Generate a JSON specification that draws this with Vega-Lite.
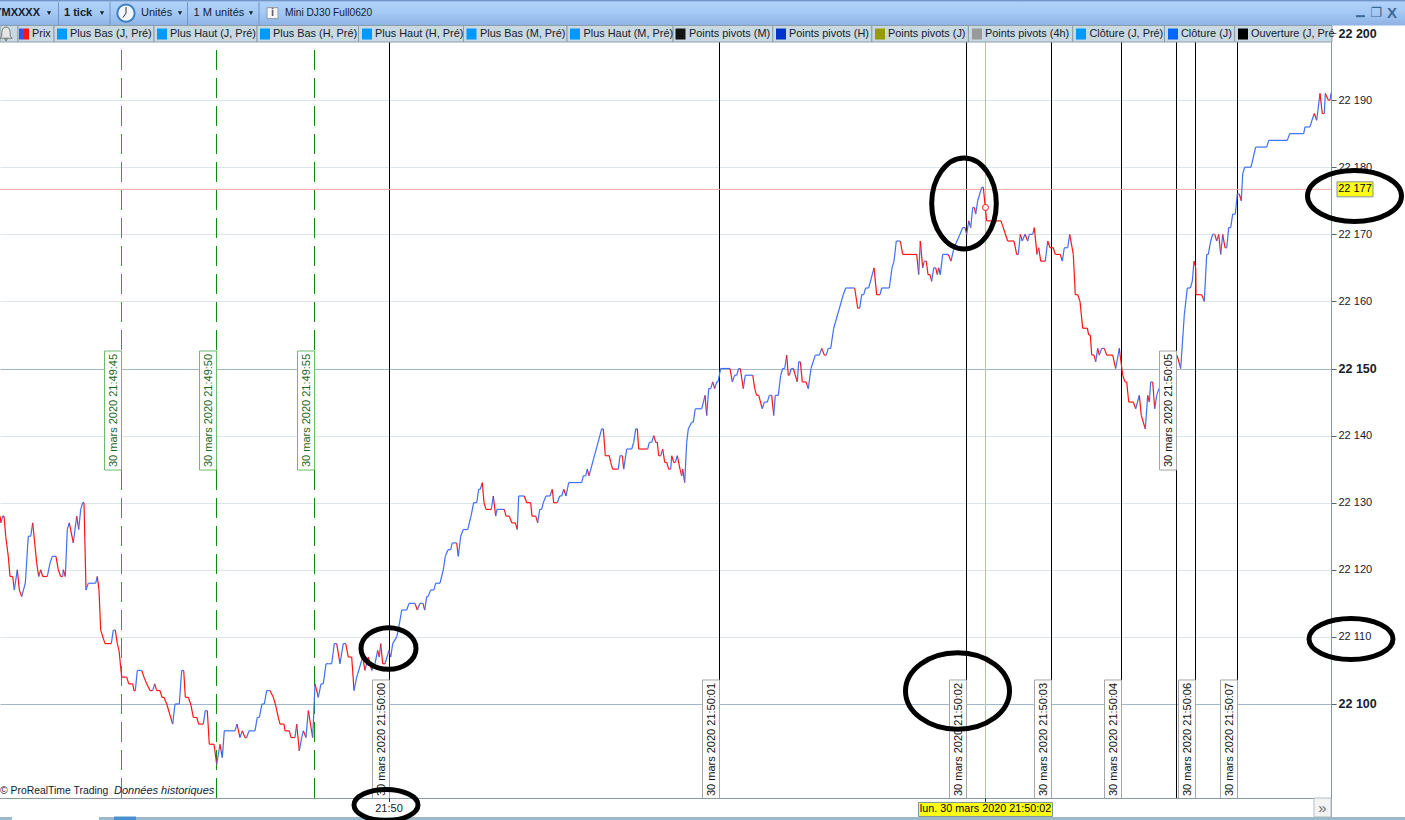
{"$schema":"https://vega.github.io/schema/vega-lite/v6.json","width":1331,"height":820,"autosize":{"type":"none"},"padding":{"left":0,"top":0,"right":74,"bottom":0},"background":"white","config":{"view":{"stroke":null},"font":"Liberation Sans","text":{"font":"Liberation Sans","fontSize":11,"color":"#16202c"}},
"datasets":{
"blackStamps":[{"tick":389.5,"price":22094.71,"label":"30 mars 2020 21:50:00"},{"tick":719.5,"price":22094.71,"label":"30 mars 2020 21:50:01"},{"tick":966.5,"price":22094.71,"label":"30 mars 2020 21:50:02"},{"tick":1051.5,"price":22094.71,"label":"30 mars 2020 21:50:03"},{"tick":1121.5,"price":22094.71,"label":"30 mars 2020 21:50:04"},{"tick":1176.5,"price":22143.74,"label":"30 mars 2020 21:50:05"},{"tick":1195.5,"price":22094.71,"label":"30 mars 2020 21:50:06"},{"tick":1237.5,"price":22094.71,"label":"30 mars 2020 21:50:07"}],
"greenStamps":[{"tick":121.5,"price":22143.74,"label":"30 mars 2020 21:49:45"},{"tick":216.5,"price":22143.74,"label":"30 mars 2020 21:49:50"},{"tick":314.5,"price":22143.74,"label":"30 mars 2020 21:49:55"}],
"tabs":[{"tab":"Prix","tick":18,"end":54,"textAt":32,"price":22199.85},{"tab":"Plus Bas (J, Pré)","tick":54,"end":154,"textAt":70,"swatch":62,"price":22199.85},{"tab":"Plus Haut (J, Pré)","tick":154,"end":257,"textAt":170,"swatch":162,"price":22199.85},{"tab":"Plus Bas (H, Pré)","tick":257,"end":358.5,"textAt":273,"swatch":265,"price":22199.85},{"tab":"Plus Haut (H, Pré)","tick":358.5,"end":463.5,"textAt":375,"swatch":367,"price":22199.85},{"tab":"Plus Bas (M, Pré)","tick":463.5,"end":567,"textAt":480,"swatch":471.5,"price":22199.85},{"tab":"Plus Haut (M, Pré)","tick":567,"end":673,"textAt":583.5,"swatch":575,"price":22199.85},{"tab":"Points pivots (M)","tick":673,"end":772.8,"textAt":689,"swatch":680.5,"price":22199.85},{"tab":"Points pivots (H)","tick":772.8,"end":871.8,"textAt":789,"swatch":781,"price":22199.85},{"tab":"Points pivots (J)","tick":871.8,"end":968.4,"textAt":888,"swatch":880,"price":22199.85},{"tab":"Points pivots (4h)","tick":968.4,"end":1072.7,"textAt":985,"swatch":977,"price":22199.85},{"tab":"Clôture (J, Pré)","tick":1072.7,"end":1164.5,"textAt":1089.4,"swatch":1081,"price":22199.85},{"tab":"Clôture (J)","tick":1164.5,"end":1234.6,"textAt":1181,"swatch":1173,"price":22199.85},{"tab":"Ouverture (J, Pré","tick":1234.6,"end":1332,"textAt":1251,"swatch":1243,"price":22199.85}],
"prices":[
{"tick":0,"price":22128,"dir":"down"},{"tick":1,"price":22127,"dir":"down"},{"tick":2.7,"price":22128,"dir":"up"},{"tick":4,"price":22128,"dir":"down"},{"tick":5.7,"price":22125,"dir":"down"},{"tick":8.3,"price":22122,"dir":"down"},{"tick":10,"price":22119,"dir":"down"},{"tick":12.7,"price":22119,"dir":"down"},{"tick":14.3,"price":22117,"dir":"down"},{"tick":17.3,"price":22120,"dir":"up"},{"tick":19.3,"price":22117,"dir":"down"},{"tick":21.7,"price":22116,"dir":"down"},{"tick":25.3,"price":22118,"dir":"up"},{"tick":28.3,"price":22125,"dir":"up"},{"tick":30.7,"price":22125,"dir":"up"},{"tick":32.7,"price":22127,"dir":"up"},{"tick":34.7,"price":22124,"dir":"down"},{"tick":36.7,"price":22121,"dir":"down"},{"tick":38.7,"price":22119,"dir":"down"},{"tick":40.7,"price":22120,"dir":"up"},{"tick":42.7,"price":22119,"dir":"down"},{"tick":47.3,"price":22119,"dir":"down"},{"tick":50,"price":22121,"dir":"up"},{"tick":52.3,"price":22122,"dir":"up"},{"tick":56,"price":22122,"dir":"up"},{"tick":58.3,"price":22120,"dir":"down"},{"tick":60.7,"price":22119,"dir":"down"},{"tick":62.7,"price":22119,"dir":"down"},{"tick":63.3,"price":22120,"dir":"up"},{"tick":65.3,"price":22119,"dir":"down"},{"tick":67.3,"price":22126,"dir":"up"},{"tick":69.3,"price":22127,"dir":"up"},{"tick":73.3,"price":22124,"dir":"down"},{"tick":76.7,"price":22128,"dir":"up"},{"tick":78.7,"price":22126,"dir":"down"},{"tick":80.7,"price":22129,"dir":"up"},{"tick":82.7,"price":22130,"dir":"up"},{"tick":84,"price":22130,"dir":"up"},{"tick":86,"price":22117,"dir":"down"},{"tick":88.3,"price":22118,"dir":"up"},{"tick":95.7,"price":22118,"dir":"up"},{"tick":97.3,"price":22119,"dir":"up"},{"tick":99,"price":22117,"dir":"down"},{"tick":100.7,"price":22111,"dir":"down"},{"tick":105,"price":22109,"dir":"down"},{"tick":111.3,"price":22109,"dir":"down"},{"tick":113.3,"price":22111,"dir":"up"},{"tick":115.3,"price":22111,"dir":"up"},{"tick":117.3,"price":22109,"dir":"down"},{"tick":119,"price":22108,"dir":"down"},{"tick":121.7,"price":22104,"dir":"down"},{"tick":126.7,"price":22104,"dir":"down"},{"tick":128.7,"price":22103,"dir":"down"},{"tick":132.7,"price":22103,"dir":"down"},{"tick":134,"price":22102,"dir":"down"},{"tick":135.3,"price":22102,"dir":"down"},{"tick":137.3,"price":22105,"dir":"up"},{"tick":141.7,"price":22105,"dir":"up"},{"tick":144,"price":22104,"dir":"down"},{"tick":146.7,"price":22103,"dir":"down"},{"tick":150,"price":22102,"dir":"down"},{"tick":152.7,"price":22102,"dir":"down"},{"tick":154.7,"price":22103,"dir":"up"},{"tick":156.7,"price":22102,"dir":"down"},{"tick":160,"price":22102,"dir":"down"},{"tick":162,"price":22101,"dir":"down"},{"tick":164,"price":22101,"dir":"down"},{"tick":166.7,"price":22100,"dir":"down"},{"tick":172.7,"price":22097,"dir":"down"},{"tick":175,"price":22100,"dir":"up"},{"tick":179.3,"price":22100,"dir":"up"},{"tick":181.7,"price":22105,"dir":"up"},{"tick":183.7,"price":22105,"dir":"up"},{"tick":185.3,"price":22101,"dir":"down"},{"tick":188.3,"price":22101,"dir":"down"},{"tick":190.7,"price":22100,"dir":"down"},{"tick":193.3,"price":22098,"dir":"down"},{"tick":196.7,"price":22098,"dir":"down"},{"tick":198.7,"price":22097,"dir":"down"},{"tick":203.3,"price":22097,"dir":"down"},{"tick":205.3,"price":22099,"dir":"up"},{"tick":207.3,"price":22099,"dir":"up"},{"tick":209.3,"price":22094,"dir":"down"},{"tick":214,"price":22094,"dir":"down"},{"tick":216.7,"price":22091,"dir":"down"},{"tick":220,"price":22094,"dir":"up"},{"tick":222.3,"price":22092,"dir":"down"},{"tick":224.3,"price":22096,"dir":"up"},{"tick":235,"price":22096,"dir":"up"},{"tick":237,"price":22097,"dir":"up"},{"tick":240,"price":22095,"dir":"down"},{"tick":242.3,"price":22096,"dir":"up"},{"tick":245,"price":22095,"dir":"down"},{"tick":246.7,"price":22095,"dir":"down"},{"tick":249,"price":22096,"dir":"up"},{"tick":255,"price":22096,"dir":"up"},{"tick":257.3,"price":22098,"dir":"up"},{"tick":259.3,"price":22098,"dir":"up"},{"tick":262,"price":22100,"dir":"up"},{"tick":264.3,"price":22100,"dir":"up"},{"tick":266.7,"price":22102,"dir":"up"},{"tick":270,"price":22102,"dir":"up"},{"tick":273.3,"price":22101,"dir":"down"},{"tick":275.3,"price":22100,"dir":"down"},{"tick":278.3,"price":22098,"dir":"down"},{"tick":280,"price":22097,"dir":"down"},{"tick":284,"price":22097,"dir":"down"},{"tick":285,"price":22096,"dir":"down"},{"tick":289.3,"price":22096,"dir":"down"},{"tick":291,"price":22095,"dir":"down"},{"tick":295,"price":22095,"dir":"down"},{"tick":296.7,"price":22097,"dir":"up"},{"tick":299.3,"price":22093,"dir":"down"},{"tick":301.7,"price":22095,"dir":"up"},{"tick":303.3,"price":22096,"dir":"up"},{"tick":306,"price":22095,"dir":"down"},{"tick":308.3,"price":22099,"dir":"up"},{"tick":312.7,"price":22095,"dir":"down"},{"tick":315,"price":22103,"dir":"up"},{"tick":318.3,"price":22101,"dir":"down"},{"tick":321,"price":22103,"dir":"up"},{"tick":323.3,"price":22103,"dir":"up"},{"tick":326,"price":22106,"dir":"up"},{"tick":328.3,"price":22106,"dir":"up"},{"tick":331.7,"price":22106,"dir":"up"},{"tick":334.3,"price":22109,"dir":"up"},{"tick":336.7,"price":22109,"dir":"up"},{"tick":340,"price":22106,"dir":"down"},{"tick":343.3,"price":22109,"dir":"up"},{"tick":345.7,"price":22109,"dir":"up"},{"tick":348.3,"price":22107,"dir":"down"},{"tick":351.7,"price":22107,"dir":"down"},{"tick":354,"price":22102,"dir":"down"},{"tick":356.7,"price":22104,"dir":"up"},{"tick":362.7,"price":22107,"dir":"up"},{"tick":365,"price":22105,"dir":"down"},{"tick":368.3,"price":22107,"dir":"up"},{"tick":371.7,"price":22105,"dir":"down"},{"tick":375,"price":22106,"dir":"up"},{"tick":377.7,"price":22108,"dir":"up"},{"tick":379.3,"price":22107,"dir":"down"},{"tick":380.7,"price":22109,"dir":"up"},{"tick":382.7,"price":22106,"dir":"down"},{"tick":385,"price":22106,"dir":"down"},{"tick":389,"price":22108,"dir":"up"},{"tick":390.7,"price":22107,"dir":"down"},{"tick":392.7,"price":22109,"dir":"up"},{"tick":396.7,"price":22110,"dir":"up"},{"tick":398.3,"price":22111,"dir":"up"},{"tick":401.7,"price":22114,"dir":"up"},{"tick":406.7,"price":22114,"dir":"up"},{"tick":409,"price":22115,"dir":"up"},{"tick":415,"price":22115,"dir":"up"},{"tick":417.3,"price":22114,"dir":"down"},{"tick":420,"price":22115,"dir":"up"},{"tick":423,"price":22115,"dir":"up"},{"tick":424.7,"price":22114,"dir":"down"},
{"tick":426.7,"price":22116,"dir":"up"},{"tick":428,"price":22116,"dir":"up"},{"tick":430.7,"price":22117,"dir":"up"},{"tick":434,"price":22117,"dir":"up"},{"tick":435.7,"price":22118,"dir":"up"},{"tick":440,"price":22118,"dir":"up"},{"tick":443.3,"price":22120,"dir":"up"},{"tick":445.3,"price":22122,"dir":"up"},{"tick":448,"price":22123,"dir":"up"},{"tick":450.7,"price":22123,"dir":"up"},{"tick":452.3,"price":22124,"dir":"up"},{"tick":456.7,"price":22124,"dir":"up"},{"tick":458.3,"price":22122,"dir":"down"},{"tick":460.7,"price":22125,"dir":"up"},{"tick":463.3,"price":22126,"dir":"up"},{"tick":467.7,"price":22126,"dir":"up"},{"tick":471,"price":22128,"dir":"up"},{"tick":473.7,"price":22130,"dir":"up"},{"tick":476.7,"price":22130,"dir":"up"},{"tick":478.7,"price":22132,"dir":"up"},{"tick":480.3,"price":22132,"dir":"up"},{"tick":482.3,"price":22133,"dir":"up"},{"tick":484,"price":22130,"dir":"down"},{"tick":486,"price":22129,"dir":"down"},{"tick":491.3,"price":22129,"dir":"down"},{"tick":493.3,"price":22131,"dir":"up"},{"tick":495.7,"price":22128,"dir":"down"},{"tick":497,"price":22129,"dir":"up"},{"tick":504.3,"price":22129,"dir":"up"},{"tick":506,"price":22128,"dir":"down"},{"tick":509.3,"price":22128,"dir":"down"},{"tick":511.7,"price":22127,"dir":"down"},{"tick":515.3,"price":22127,"dir":"down"},{"tick":517.3,"price":22126,"dir":"down"},{"tick":518.7,"price":22131,"dir":"up"},{"tick":524.3,"price":22131,"dir":"up"},{"tick":526.7,"price":22130,"dir":"down"},{"tick":530.7,"price":22130,"dir":"down"},{"tick":532,"price":22128,"dir":"down"},{"tick":535.7,"price":22128,"dir":"down"},{"tick":537.7,"price":22127,"dir":"down"},{"tick":539.7,"price":22129,"dir":"up"},{"tick":541.7,"price":22129,"dir":"up"},{"tick":543.3,"price":22130,"dir":"up"},{"tick":546,"price":22131,"dir":"up"},{"tick":550,"price":22131,"dir":"up"},{"tick":552.3,"price":22132,"dir":"up"},{"tick":553.7,"price":22130,"dir":"down"},{"tick":557.3,"price":22130,"dir":"down"},{"tick":559.7,"price":22131,"dir":"up"},{"tick":561.7,"price":22131,"dir":"up"},{"tick":563.7,"price":22132,"dir":"up"},{"tick":566,"price":22131,"dir":"down"},{"tick":568.7,"price":22133,"dir":"up"},{"tick":581.7,"price":22133,"dir":"up"},{"tick":583.3,"price":22134,"dir":"up"},{"tick":585.7,"price":22134,"dir":"up"},{"tick":587.3,"price":22135,"dir":"up"},{"tick":589,"price":22134,"dir":"down"},{"tick":601.7,"price":22141,"dir":"up"},{"tick":603.3,"price":22141,"dir":"up"},{"tick":605.3,"price":22137,"dir":"down"},{"tick":609.3,"price":22137,"dir":"down"},{"tick":610.7,"price":22136,"dir":"down"},{"tick":612.7,"price":22135,"dir":"down"},{"tick":618.3,"price":22135,"dir":"down"},{"tick":620,"price":22137,"dir":"up"},{"tick":622.3,"price":22137,"dir":"up"},{"tick":623.7,"price":22135,"dir":"down"},{"tick":626.7,"price":22138,"dir":"up"},{"tick":631.7,"price":22138,"dir":"up"},{"tick":633.7,"price":22139,"dir":"up"},{"tick":635.7,"price":22141,"dir":"up"},{"tick":637.3,"price":22141,"dir":"up"},{"tick":638.7,"price":22138,"dir":"down"},{"tick":647.7,"price":22138,"dir":"down"},{"tick":649.3,"price":22139,"dir":"up"},{"tick":651.7,"price":22139,"dir":"up"},{"tick":653.7,"price":22140,"dir":"up"},{"tick":655.7,"price":22139,"dir":"down"},{"tick":657.3,"price":22139,"dir":"down"},{"tick":658.7,"price":22137,"dir":"down"},{"tick":660.7,"price":22137,"dir":"down"},{"tick":662.7,"price":22138,"dir":"up"},{"tick":664.7,"price":22136,"dir":"down"},{"tick":666.7,"price":22136,"dir":"down"},{"tick":668.7,"price":22135,"dir":"down"},{"tick":670.7,"price":22135,"dir":"down"},{"tick":671.7,"price":22137,"dir":"up"},{"tick":673.7,"price":22136,"dir":"down"},{"tick":675.3,"price":22136,"dir":"down"},{"tick":677.3,"price":22137,"dir":"up"},{"tick":680,"price":22135,"dir":"down"},{"tick":681.7,"price":22134,"dir":"down"},{"tick":682.7,"price":22135,"dir":"up"},{"tick":684.7,"price":22133,"dir":"down"},{"tick":686.7,"price":22139,"dir":"up"},{"tick":688.3,"price":22141,"dir":"up"},
{"tick":691.7,"price":22142,"dir":"up"},{"tick":693.3,"price":22142,"dir":"up"},{"tick":695.3,"price":22144,"dir":"up"},{"tick":701.7,"price":22144,"dir":"up"},{"tick":705,"price":22146,"dir":"up"},{"tick":706.7,"price":22143,"dir":"down"},{"tick":708.7,"price":22147,"dir":"up"},{"tick":710.7,"price":22147,"dir":"up"},{"tick":712.7,"price":22148,"dir":"up"},{"tick":714.7,"price":22147,"dir":"down"},{"tick":716.7,"price":22148,"dir":"up"},{"tick":718,"price":22148,"dir":"up"},{"tick":720.7,"price":22150,"dir":"up"},{"tick":730,"price":22150,"dir":"up"},{"tick":732.3,"price":22148,"dir":"down"},{"tick":734.7,"price":22149,"dir":"up"},{"tick":736.7,"price":22149,"dir":"up"},{"tick":738.7,"price":22150,"dir":"up"},{"tick":740.3,"price":22150,"dir":"up"},{"tick":743.3,"price":22147,"dir":"down"},{"tick":745.3,"price":22149,"dir":"up"},{"tick":752.7,"price":22149,"dir":"up"},{"tick":754.7,"price":22147,"dir":"down"},{"tick":756.7,"price":22146,"dir":"down"},{"tick":758.7,"price":22146,"dir":"down"},{"tick":762.3,"price":22144,"dir":"down"},{"tick":764.3,"price":22145,"dir":"up"},{"tick":767.3,"price":22145,"dir":"up"},{"tick":769.3,"price":22146,"dir":"up"},{"tick":771.7,"price":22146,"dir":"up"},{"tick":773.7,"price":22143,"dir":"down"},{"tick":775.3,"price":22146,"dir":"up"},{"tick":778.3,"price":22146,"dir":"up"},{"tick":780.7,"price":22149,"dir":"up"},{"tick":782.7,"price":22150,"dir":"up"},{"tick":784.7,"price":22150,"dir":"up"},{"tick":786.7,"price":22152,"dir":"up"},{"tick":788.3,"price":22149,"dir":"down"},{"tick":789.3,"price":22149,"dir":"down"},{"tick":791.3,"price":22150,"dir":"up"},{"tick":793.3,"price":22150,"dir":"up"},{"tick":797.3,"price":22148,"dir":"down"},{"tick":798.7,"price":22151,"dir":"up"},{"tick":800.3,"price":22151,"dir":"up"},{"tick":802.3,"price":22148,"dir":"down"},{"tick":806,"price":22148,"dir":"down"},{"tick":808.3,"price":22147,"dir":"down"},{"tick":811,"price":22150,"dir":"up"},{"tick":815.3,"price":22152,"dir":"up"},{"tick":819.3,"price":22152,"dir":"up"},{"tick":821.7,"price":22153,"dir":"up"},{"tick":824.3,"price":22152,"dir":"down"},{"tick":826.3,"price":22152,"dir":"down"},{"tick":828.3,"price":22153,"dir":"up"},{"tick":830.7,"price":22153,"dir":"up"},{"tick":833.7,"price":22156,"dir":"up"},{"tick":843.3,"price":22161,"dir":"up"},{"tick":845.7,"price":22162,"dir":"up"},{"tick":854.7,"price":22162,"dir":"up"},{"tick":857.7,"price":22159,"dir":"down"},{"tick":859.7,"price":22159,"dir":"down"},{"tick":861.7,"price":22161,"dir":"up"},{"tick":863.7,"price":22161,"dir":"up"},{"tick":865.7,"price":22162,"dir":"up"},{"tick":868.7,"price":22162,"dir":"up"},{"tick":874,"price":22165,"dir":"up"},{"tick":876.7,"price":22161,"dir":"down"},{"tick":880,"price":22161,"dir":"down"},{"tick":881.7,"price":22162,"dir":"up"},{"tick":889.3,"price":22162,"dir":"up"},{"tick":892,"price":22165,"dir":"up"},{"tick":894,"price":22166,"dir":"up"},{"tick":896.3,"price":22169,"dir":"up"},{"tick":900.3,"price":22169,"dir":"up"},{"tick":902.7,"price":22167,"dir":"down"},{"tick":916.7,"price":22167,"dir":"down"},{"tick":918.7,"price":22164,"dir":"down"},{"tick":920.3,"price":22169,"dir":"up"},{"tick":922.7,"price":22165,"dir":"down"},{"tick":924.3,"price":22166,"dir":"up"},{"tick":926.3,"price":22166,"dir":"up"},{"tick":928,"price":22164,"dir":"down"},{"tick":930,"price":22164,"dir":"down"},{"tick":931.7,"price":22163,"dir":"down"},{"tick":933.7,"price":22165,"dir":"up"},{"tick":935.7,"price":22165,"dir":"up"},{"tick":937.3,"price":22164,"dir":"down"},{"tick":938.7,"price":22165,"dir":"up"},{"tick":940.3,"price":22164,"dir":"down"},{"tick":942.7,"price":22167,"dir":"up"},{"tick":948.3,"price":22167,"dir":"up"},{"tick":951,"price":22166,"dir":"down"},{"tick":954,"price":22168,"dir":"up"},{"tick":960,"price":22170,"dir":"up"},{"tick":962.7,"price":22171,"dir":"up"},{"tick":965,"price":22171,"dir":"up"},{"tick":966.7,"price":22170,"dir":"down"},{"tick":968.7,"price":22172,"dir":"up"},{"tick":970.7,"price":22171,"dir":"down"},{"tick":972.7,"price":22174,"dir":"up"},{"tick":974.3,"price":22174,"dir":"up"},{"tick":975.7,"price":22173,"dir":"down"},{"tick":977.7,"price":22175,"dir":"up"},{"tick":981.7,"price":22177,"dir":"up"},{"tick":983.3,"price":22177,"dir":"up"},{"tick":985.3,"price":22174,"dir":"down"},{"tick":986.7,"price":22172,"dir":"down"},{"tick":1001,"price":22172,"dir":"down"},{"tick":1007.7,"price":22169,"dir":"down"},{"tick":1014,"price":22169,"dir":"down"},{"tick":1016.7,"price":22167,"dir":"down"},{"tick":1018.3,"price":22167,"dir":"down"},{"tick":1020.3,"price":22170,"dir":"up"},{"tick":1022.3,"price":22169,"dir":"down"},{"tick":1025,"price":22170,"dir":"up"},{"tick":1027.7,"price":22169,"dir":"down"},{"tick":1029.3,"price":22170,"dir":"up"},{"tick":1032.7,"price":22170,"dir":"up"},{"tick":1034.3,"price":22171,"dir":"up"},{"tick":1037,"price":22167,"dir":"down"},{"tick":1038.7,"price":22168,"dir":"up"},{"tick":1040.7,"price":22166,"dir":"down"},{"tick":1045.3,"price":22166,"dir":"down"},{"tick":1047.7,"price":22169,"dir":"up"},{"tick":1050,"price":22168,"dir":"down"},{"tick":1053.3,"price":22168,"dir":"down"},{"tick":1055.3,"price":22167,"dir":"down"},{"tick":1060.3,"price":22167,"dir":"down"},{"tick":1062.3,"price":22166,"dir":"down"},{"tick":1064.3,"price":22168,"dir":"up"},{"tick":1067.7,"price":22168,"dir":"up"},{"tick":1069.7,"price":22170,"dir":"up"},{"tick":1073.3,"price":22167,"dir":"down"},{"tick":1075.3,"price":22161,"dir":"down"},{"tick":1077.7,"price":22161,"dir":"down"},{"tick":1080,"price":22160,"dir":"down"},{"tick":1082.7,"price":22156,"dir":"down"},{"tick":1087.3,"price":22156,"dir":"down"},{"tick":1088.7,"price":22155,"dir":"down"},{"tick":1090.3,"price":22155,"dir":"down"},{"tick":1091.7,"price":22152,"dir":"down"},{"tick":1094,"price":22152,"dir":"down"},{"tick":1095.7,"price":22151,"dir":"down"},{"tick":1097.7,"price":22153,"dir":"up"},{"tick":1099.3,"price":22152,"dir":"down"},{"tick":1101.7,"price":22153,"dir":"up"},{"tick":1104.3,"price":22153,"dir":"up"},{"tick":1106.7,"price":22152,"dir":"down"},{"tick":1112.7,"price":22152,"dir":"down"},{"tick":1115.7,"price":22150,"dir":"down"},{"tick":1119.3,"price":22153,"dir":"up"},{"tick":1122.7,"price":22149,"dir":"down"},{"tick":1125,"price":22148,"dir":"down"},{"tick":1126.7,"price":22148,"dir":"down"},{"tick":1128.7,"price":22145,"dir":"down"},{"tick":1133.3,"price":22145,"dir":"down"},{"tick":1135.7,"price":22144,"dir":"down"},{"tick":1139.3,"price":22146,"dir":"up"},{"tick":1141.3,"price":22143,"dir":"down"},{"tick":1145.3,"price":22141,"dir":"down"},{"tick":1147.7,"price":22146,"dir":"up"},{"tick":1149.3,"price":22145,"dir":"down"},{"tick":1150.7,"price":22148,"dir":"up"},{"tick":1152.7,"price":22148,"dir":"up"},{"tick":1154.7,"price":22144,"dir":"down"},{"tick":1156.7,"price":22146,"dir":"up"},{"tick":1159,"price":22147,"dir":"up"},{"tick":1165,"price":22149,"dir":"up"},{"tick":1171,"price":22151,"dir":"up"},{"tick":1177,"price":22152,"dir":"up"},{"tick":1180.7,"price":22150,"dir":"down"},{"tick":1184.3,"price":22158,"dir":"up"},{"tick":1187.3,"price":22162,"dir":"up"},{"tick":1190.3,"price":22162,"dir":"up"},{"tick":1192.3,"price":22163,"dir":"up"},{"tick":1194,"price":22166,"dir":"up"},{"tick":1195.7,"price":22165,"dir":"down"},{"tick":1196,"price":22161,"dir":"down"},{"tick":1201.7,"price":22161,"dir":"down"},{"tick":1204.3,"price":22160,"dir":"down"},{"tick":1206.7,"price":22167,"dir":"up"},{"tick":1208.3,"price":22167,"dir":"up"},{"tick":1210.7,"price":22169,"dir":"up"},{"tick":1212.7,"price":22170,"dir":"up"},{"tick":1214.7,"price":22170,"dir":"up"},{"tick":1216.7,"price":22169,"dir":"down"},{"tick":1218.7,"price":22170,"dir":"up"},{"tick":1220.7,"price":22167,"dir":"down"},{"tick":1222.7,"price":22170,"dir":"up"},{"tick":1225,"price":22168,"dir":"down"},{"tick":1226.7,"price":22168,"dir":"down"},{"tick":1228.7,"price":22171,"dir":"up"},{"tick":1230.7,"price":22171,"dir":"up"},{"tick":1232.7,"price":22173,"dir":"up"},{"tick":1235.3,"price":22173,"dir":"up"},{"tick":1237.3,"price":22176,"dir":"up"},{"tick":1239.3,"price":22176,"dir":"up"},{"tick":1241.3,"price":22175,"dir":"down"},{"tick":1242.7,"price":22179,"dir":"up"},{"tick":1244.7,"price":22180,"dir":"up"},{"tick":1251,"price":22180,"dir":"up"},{"tick":1255.7,"price":22183,"dir":"up"},{"tick":1266.7,"price":22183,"dir":"up"},{"tick":1268.7,"price":22184,"dir":"up"},{"tick":1287.3,"price":22184,"dir":"up"},{"tick":1289.7,"price":22185,"dir":"up"},{"tick":1303.7,"price":22185,"dir":"up"},{"tick":1305,"price":22186,"dir":"up"},{"tick":1310,"price":22186,"dir":"up"},{"tick":1312,"price":22187,"dir":"up"},{"tick":1314.3,"price":22188,"dir":"up"},{"tick":1316.7,"price":22187,"dir":"down"},{"tick":1320,"price":22191,"dir":"up"},{"tick":1322.3,"price":22188,"dir":"down"},{"tick":1324.3,"price":22188,"dir":"down"},{"tick":1325.3,"price":22191,"dir":"up"},{"tick":1328.3,"price":22190,"dir":"down"},{"tick":1330,"price":22190,"dir":"down"},{"tick":1331,"price":22191,"dir":"up"}
]},
"encoding":{
"x":{"field":"tick","type":"quantitative","scale":{"domain":[0,1331],"nice":false,"zero":false},"axis":null},
"y":{"field":"price","type":"quantitative","scale":{"domain":[22082.71,22204.92],"nice":false,"zero":false},"axis":{"values":[22100,22110,22120,22130,22140,22150,22160,22170,22180,22190,22200],"title":null,"orient":"right","grid":true,"domain":true,"domainColor":"#8396a2","domainWidth":1,"ticks":true,"tickSize":5,"tickColor":"#55636e","labelPadding":2,"labelColor":"#16202c","labelFont":"Liberation Sans","labelFlush":false,"labelOverlap":false,"labelExpr":"replace(format(datum.value,','),',',' ')","labelFontSize":{"condition":{"test":"datum.value % 50 == 0","value":12.5},"value":11},"labelFontWeight":{"condition":{"test":"datum.value % 50 == 0","value":"bold"},"value":"normal"},"gridColor":{"condition":{"test":"datum.value % 50 == 0","value":"#a3b7cb"},"value":"#dde5ec"},"gridWidth":1}}
},
"layer":[
{"data":{"name":"blackStamps"},"mark":{"type":"rule","color":"#000000","strokeWidth":1},"encoding":{"y":{"datum":22198.66},"y2":{"datum":22085.99}}},
{"data":{"values":[{"tick":985.5,"price":22198.66}]},"mark":{"type":"rule","color":"#f8a3a3","strokeWidth":1},"encoding":{"y2":{"datum":22085.99}}},
{"data":{"values":[{"tick":0,"end":1331,"price":22176.7}]},"mark":{"type":"rule","color":"#f8a3a3","strokeWidth":1},"encoding":{"x2":{"field":"end"}}},
{"data":{"values":[{"tick":121.5,"price":22197.47}]},"mark":{"type":"rule","color":"#2ca52c","strokeWidth":1,"strokeDash":[20,8]},"encoding":{"y2":{"datum":22085.99}}},
{"data":{"values":[{"tick":216.5,"price":22197.47},{"tick":314.5,"price":22197.47}]},"mark":{"type":"rule","color":"#0c8a0c","strokeWidth":1,"strokeDash":[20,8]},"encoding":{"y2":{"datum":22085.99}}},
{"data":{"name":"prices"},"transform":[{"window":[{"op":"lag","field":"tick","as":"prevTick"},{"op":"lag","field":"price","as":"prevPrice"}],"sort":[{"field":"tick","order":"ascending"}]},{"filter":"isValid(datum.prevTick)"}],"mark":{"type":"rule","strokeWidth":1.2},"encoding":{"x2":{"field":"prevTick"},"y2":{"field":"prevPrice"},"color":{"field":"dir","type":"nominal","scale":{"domain":["up","down"],"range":["#3f6ff5","#ff1414"]},"legend":null}}},
{"data":{"values":[{"tick":985.5,"price":22174}]},"mark":{"type":"point","shape":"circle","filled":true,"fill":"#ffffff","stroke":"#f01010","strokeWidth":1,"size":36,"opacity":1}},
{"data":{"name":"blackStamps"},"mark":{"type":"rect","width":17,"height":119,"xOffset":-8.5,"fill":"#ffffff","stroke":"#a6a6a6","strokeWidth":1}},
{"data":{"name":"blackStamps"},"mark":{"type":"text","angle":270,"align":"center","baseline":"middle","xOffset":-8,"fontSize":11,"color":"#101010"},"encoding":{"text":{"field":"label"}}},
{"data":{"name":"greenStamps"},"mark":{"type":"rect","width":17,"height":119,"xOffset":-8.5,"fill":"#ffffff","stroke":"#6dbb6d","strokeWidth":1}},
{"data":{"name":"greenStamps"},"mark":{"type":"text","angle":270,"align":"center","baseline":"middle","xOffset":-8,"fontSize":11,"color":"#1c661c"},"encoding":{"text":{"field":"label"}}},
{"data":{"values":[{"tick":0,"price":22087.03,"label":"© ProRealTime Trading"}]},"mark":{"type":"text","align":"left","baseline":"middle","fontSize":10.4},"encoding":{"text":{"field":"label"}}},
{"data":{"values":[{"tick":114,"price":22087.03,"label":"Données historiques"}]},"mark":{"type":"text","align":"left","baseline":"middle","fontSize":11,"fontStyle":"italic"},"encoding":{"text":{"field":"label"}}},
{"data":{"values":[{"tick":0,"end":1331,"price":22085.99}]},"mark":{"type":"rect","fill":"#ffffff"},"encoding":{"x2":{"field":"end"},"y2":{"datum":22083.16}}},
{"data":{"values":[{"tick":0,"end":1331,"price":22085.92}]},"mark":{"type":"rule","color":"#8396a2","strokeWidth":1},"encoding":{"x2":{"field":"end"}}},
{"data":{"values":[{"tick":389.5,"price":22085.92},{"tick":985.5,"price":22085.92}]},"mark":{"type":"rule","color":"#222222","strokeWidth":1},"encoding":{"y2":{"datum":22085.4}}},
{"data":{"values":[{"tick":389,"price":22084.28,"label":"21:50"}]},"mark":{"type":"text","align":"center","baseline":"middle","fontSize":11},"encoding":{"text":{"field":"label"}}},
{"data":{"values":[{"tick":985.5,"price":22084.28,"label":"lun. 30 mars 2020 21:50:02"}]},"mark":{"type":"rect","width":134,"height":14,"fill":"#ffff14","stroke":"#7f939f","strokeWidth":1}},
{"data":{"values":[{"tick":985.5,"price":22084.28,"label":"lun. 30 mars 2020 21:50:02"}]},"mark":{"type":"text","align":"center","baseline":"middle","fontSize":10.8,"color":"#000000"},"encoding":{"text":{"field":"label"}}},
{"data":{"values":[{"tick":1314,"end":1331,"price":22085.99}]},"mark":{"type":"rect","fill":"#f3f3f3","stroke":"#b4bec6","strokeWidth":1},"encoding":{"x2":{"field":"end"},"y2":{"datum":22083.16}}},
{"data":{"values":[{"tick":1322.5,"price":22084.45,"label":"»"}]},"mark":{"type":"text","align":"center","baseline":"middle","fontSize":15,"color":"#6a6a6a"},"encoding":{"text":{"field":"label"}}},
{"data":{"values":[{"tick":0,"end":1405,"price":22083.16}]},"mark":{"type":"rect","fill":"#9bb9c6"},"encoding":{"x2":{"field":"end"},"y2":{"datum":22082.71}}},
{"data":{"values":[{"tick":12,"end":99,"price":22083.23}]},"mark":{"type":"rect","fill":"#ffffff"},"encoding":{"x2":{"field":"end"},"y2":{"datum":22082.71}}},
{"data":{"values":[{"tick":114,"end":136,"price":22083.23}]},"mark":{"type":"rect","fill":"#4a90d0"},"encoding":{"x2":{"field":"end"},"y2":{"datum":22082.71}}},
{"data":{"values":[{"tick":1355,"price":22176.7,"label":"22 177"}]},"mark":{"type":"rect","width":36,"height":15,"fill":"#ffff14","stroke":"#7f939f","strokeWidth":1}},
{"data":{"values":[{"tick":1355,"price":22176.7,"label":"22 177"}]},"mark":{"type":"text","align":"center","baseline":"middle","fontSize":11,"color":"#000000"},"encoding":{"text":{"field":"label"}}},
{"data":{"values":[{"tick":0,"end":1405,"price":22204.92}]},"mark":{"type":"rect","fill":{"gradient":"linear","x1":0,"y1":0,"x2":0,"y2":1,"stops":[{"offset":0,"color":"#5c83b5"},{"offset":0.08,"color":"#b0d2fa"},{"offset":0.5,"color":"#a5c9f5"},{"offset":1,"color":"#8db2e4"}]}},"encoding":{"x2":{"field":"end"},"y2":{"datum":22201.12}}},
{"data":{"values":[{"tick":58.5,"price":22204.6},{"tick":110,"price":22204.6},{"tick":187.5,"price":22204.6},{"tick":259,"price":22204.6}]},"mark":{"type":"rule","color":"#6f95c4","strokeWidth":1},"encoding":{"y2":{"datum":22201.12}}},
{"data":{"values":[{"tick":49,"price":22202.96},{"tick":102,"price":22202.96},{"tick":180,"price":22202.96},{"tick":251,"price":22202.96}]},"mark":{"type":"point","shape":"triangle-down","filled":true,"size":18,"color":"#16202c","opacity":1}},
{"data":{"values":[{"tick":40,"price":22202.96,"label":"YMXXXX"}]},"mark":{"type":"text","align":"right","baseline":"middle","fontSize":11,"fontWeight":"bold"},"encoding":{"text":{"field":"label"}}},
{"data":{"values":[{"tick":64,"price":22202.96,"label":"1 tick"}]},"mark":{"type":"text","align":"left","baseline":"middle","fontSize":11,"fontWeight":"bold"},"encoding":{"text":{"field":"label"}}},
{"data":{"values":[{"tick":141,"price":22202.96,"label":"Unités"},{"tick":193.5,"price":22202.96,"label":"1 M unités"}]},"mark":{"type":"text","align":"left","baseline":"middle","fontSize":11},"encoding":{"text":{"field":"label"}}},
{"data":{"values":[{"tick":285,"price":22202.96,"label":"Mini DJ30 Full0620"}]},"mark":{"type":"text","align":"left","baseline":"middle","fontSize":10.2},"encoding":{"text":{"field":"label"}}},
{"data":{"values":[{"tick":126,"price":22202.96}]},"mark":{"type":"point","shape":"circle","filled":true,"fill":"#f3f7fd","stroke":"#3f7fc0","strokeWidth":2,"size":300,"opacity":1}},
{"data":{"values":[{"tick":126,"price":22202.96}]},"mark":{"type":"point","shape":"M0,-0.7L0,0L-0.35,0.5","filled":false,"stroke":"#333333","strokeWidth":1,"size":300,"opacity":1}},
{"data":{"values":[{"tick":272.5,"price":22202.96}]},"mark":{"type":"rect","width":11,"height":11,"fill":"#f8f8f8","stroke":"#8a97a3","strokeWidth":1}},
{"data":{"values":[{"tick":272.5,"price":22202.96,"label":"i"}]},"mark":{"type":"text","align":"center","baseline":"middle","fontSize":11,"fontWeight":"bold","color":"#555f69"},"encoding":{"text":{"field":"label"}}},
{"data":{"values":[{"tick":1356,"end":1365,"price":22202.66}]},"mark":{"type":"rect","fill":"#3a6a9a"},"encoding":{"x2":{"field":"end"},"y2":{"datum":22202.36}}},
{"data":{"values":[{"tick":1376,"price":22202.96,"label":"❐"}]},"mark":{"type":"text","align":"center","baseline":"middle","fontSize":13,"font":"DejaVu Sans","color":"#3a6a9a"},"encoding":{"text":{"field":"label"}}},
{"data":{"values":[{"tick":1392,"price":22202.96,"label":"X"}]},"mark":{"type":"text","align":"center","baseline":"middle","fontSize":15,"fontWeight":"bold","color":"#3a6a9a"},"encoding":{"text":{"field":"label"}}},
{"data":{"values":[{"tick":0,"end":18,"price":22201.12}]},"mark":{"type":"rect","fill":"#c9d9e1","stroke":"#8c9eaa","strokeWidth":1},"encoding":{"x2":{"field":"end"},"y2":{"datum":22198.66}}},
{"data":{"values":[{"tick":6,"price":22199.85}]},"mark":{"type":"point","shape":"M0,-1C-0.3,-1,-0.6,-0.7,-0.6,-0.2L-0.6,0.3L-0.9,0.6L0.9,0.6L0.6,0.3L0.6,-0.2C0.6,-0.7,0.3,-1,0,-1ZM-0.2,0.7L0.2,0.7L0,1Z","filled":true,"fill":"#e6e6e6","stroke":"#777777","strokeWidth":1,"size":196,"opacity":1}},
{"data":{"name":"tabs"},"mark":{"type":"rect","fill":"#c9d9e1","stroke":"#8c9eaa","strokeWidth":1},"encoding":{"x2":{"field":"end"},"y":{"datum":22201.12},"y2":{"datum":22198.66}}},
{"data":{"values":[{"tick":21.5,"price":22199.85}]},"mark":{"type":"rect","width":5,"height":11,"fill":"#3355ee"}},
{"data":{"values":[{"tick":26.5,"price":22199.85}]},"mark":{"type":"rect","width":5,"height":11,"fill":"#ff1414"}},
{"data":{"name":"tabs"},"transform":[{"filter":"isValid(datum.swatch)"}],"mark":{"type":"rect","width":10,"height":11},"encoding":{"x":{"field":"swatch","type":"quantitative"},"fill":{"field":"tab","type":"nominal","scale":{"domain":["Plus Bas (J, Pré)","Plus Haut (J, Pré)","Plus Bas (H, Pré)","Plus Haut (H, Pré)","Plus Bas (M, Pré)","Plus Haut (M, Pré)","Points pivots (M)","Points pivots (H)","Points pivots (J)","Points pivots (4h)","Clôture (J, Pré)","Clôture (J)","Ouverture (J, Pré"],"range":["#0099ff","#0099ff","#0099ff","#0099ff","#0099ff","#0099ff","#141414","#0033cc","#999900","#999999","#0099ff","#0066ff","#000000"]},"legend":null}}},
{"data":{"name":"tabs"},"mark":{"type":"text","align":"left","baseline":"middle","fontSize":10.9},"encoding":{"x":{"field":"textAt","type":"quantitative"},"text":{"field":"tab"}}},
{"data":{"values":[{"tick":388.5,"price":22108.27}]},"mark":{"type":"point","filled":false,"stroke":"#000000","strokeWidth":5,"opacity":1,"size":3025,"shape":"M-1,0C-1,-0.416,-0.552,-0.754,0,-0.754C0.552,-0.754,1,-0.416,1,0C1,0.416,0.552,0.754,0,0.754C-0.552,0.754,-1,0.416,-1,0Z"}},
{"data":{"values":[{"tick":964,"price":22174.59}]},"mark":{"type":"point","filled":false,"stroke":"#000000","strokeWidth":5,"opacity":1,"size":8281,"shape":"M-0.71,0C-0.71,-0.552,-0.392,-1,0,-1C0.392,-1,0.71,-0.552,0.71,0C0.71,0.552,0.392,1,0,1C-0.392,1,-0.71,0.552,-0.71,0Z"}},
{"data":{"values":[{"tick":957.5,"price":22101.94}]},"mark":{"type":"point","filled":false,"stroke":"#000000","strokeWidth":5,"opacity":1,"size":10816,"shape":"M-1,0C-1,-0.406,-0.552,-0.736,0,-0.736C0.552,-0.736,1,-0.406,1,0C1,0.406,0.552,0.736,0,0.736C-0.552,0.736,-1,0.406,-1,0Z"}},
{"data":{"values":[{"tick":386,"price":22084.95}]},"mark":{"type":"point","filled":false,"stroke":"#000000","strokeWidth":5,"opacity":1,"size":4096,"shape":"M-1,0C-1,-0.268,-0.552,-0.485,0,-0.485C0.552,-0.485,1,-0.268,1,0C1,0.268,0.552,0.485,0,0.485C-0.552,0.485,-1,0.268,-1,0Z"}},
{"data":{"values":[{"tick":1354.5,"price":22175.71}]},"mark":{"type":"point","filled":false,"stroke":"#000000","strokeWidth":5,"opacity":1,"size":8836,"shape":"M-1,0C-1,-0.299,-0.552,-0.542,0,-0.542C0.552,-0.542,1,-0.299,1,0C1,0.299,0.552,0.542,0,0.542C-0.552,0.542,-1,0.299,-1,0Z"}},
{"data":{"values":[{"tick":1351,"price":22109.69}]},"mark":{"type":"point","filled":false,"stroke":"#000000","strokeWidth":5,"opacity":1,"size":7056,"shape":"M-1,0C-1,-0.27,-0.552,-0.488,0,-0.488C0.552,-0.488,1,-0.27,1,0C1,0.27,0.552,0.488,0,0.488C-0.552,0.488,-1,0.27,-1,0Z"}}
]}
